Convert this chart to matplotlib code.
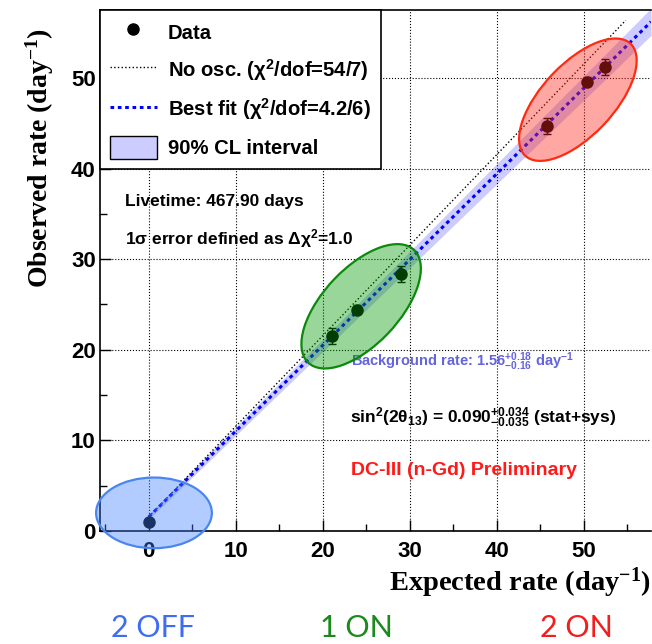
import matplotlib
matplotlib.use('Agg')
import matplotlib.pyplot as plt
from matplotlib.patches import Ellipse, Patch
from matplotlib.lines import Line2D
from matplotlib.ticker import MultipleLocator

# measured rates
expected = [0.0, 21.1, 23.9, 29.0, 45.7, 50.3, 52.4]
observed = [1.0, 21.5, 24.4, 28.4, 44.7, 49.6, 51.2]
obs_err = [0.3, 0.9, 0.5, 0.9, 0.9, 0.5, 0.9]

# no-oscillation and best-fit lines
noosc_x = [0.0, 54.8]
noosc_y = [1.56, 56.36]
fit_x = [0.0, 57.7]
fit_y = [1.56, 56.2]
band_lo = [1.30, 54.7]
band_hi = [1.82, 57.7]

# reactor configurations
groups = ['2 OFF', '1 ON', '2 ON']
group_x = [0.6, 24.4, 49.3]
group_y = [2.0, 24.8, 47.6]

plt.rcParams['font.family'] = ['Liberation Sans', 'DejaVu Sans']
plt.rcParams['font.weight'] = 'bold'
plt.rcParams['mathtext.default'] = 'regular'

fig = plt.figure(figsize=(6.52, 6.44), dpi=100)
ax = fig.add_axes([100/652, 113/644, 551/652, 521/644])
ax.set_xlim(-5.6, 57.7)
ax.set_ylim(0, 57.5)

ax.grid(True, which='major', color='black', linestyle=':', linewidth=0.8, zorder=0)
ax.set_axisbelow(True)

ax.fill_between(fit_x, band_lo, band_hi, color=(0, 0, 1, 0.2), linewidth=0, zorder=1)
ax.plot(noosc_x, noosc_y, color='black', linestyle=':', linewidth=1, zorder=2)
ax.plot(fit_x, fit_y, color='#0000ff', linestyle=(0, (1.2, 1.2)), linewidth=2.2, zorder=2)
ax.errorbar(expected, observed, yerr=obs_err, fmt='o', color='black', ms=8,
            elinewidth=1, capsize=3, zorder=3)

# ellipses drawn over the points, semi-transparent
ell_w = [13.3, 17.4, 17.3]
ell_h = [7.8, 8.6, 8.1]
ell_ang = [0, 45, 45]
ell_face = [(0.25, 0.5, 1.0, 0.4), (0.0, 0.6, 0.0, 0.4), (1.0, 0.15, 0.1, 0.4)]
ell_edge = ['#4a86f0', '#0a8a0a', '#ff2a10']
for i in range(len(groups)):
    e = Ellipse((group_x[i], group_y[i]), ell_w[i], ell_h[i], angle=ell_ang[i],
                facecolor=ell_face[i], edgecolor=ell_edge[i], linewidth=1.6,
                zorder=4, clip_on=False)
    ax.add_patch(e)

ax.spines['right'].set_visible(False)
for s in ['left', 'bottom', 'top']:
    ax.spines[s].set_linewidth(1.2)
ax.xaxis.set_major_locator(MultipleLocator(10))
ax.xaxis.set_minor_locator(MultipleLocator(5))
ax.yaxis.set_major_locator(MultipleLocator(10))
ax.yaxis.set_minor_locator(MultipleLocator(5))
ax.tick_params(which='both', direction='in', top=False, right=False)
ax.tick_params(which='major', length=8, width=1)
ax.tick_params(which='minor', length=5, width=1)
ax.tick_params(axis='x', labelsize=16, pad=7)
ax.tick_params(axis='y', labelsize=16, pad=3)
for lab in ax.get_xticklabels() + ax.get_yticklabels():
    lab.set_fontweight('bold')

fig.text(40/652, 1 - 28/644, 'Observed rate (day$^{-1}$)', rotation=90,
         ha='center', va='top', fontsize=20, fontweight='bold',
         family=['Liberation Serif', 'DejaVu Serif'])
fig.text(651/652, 1 - 583/644, 'Expected rate (day$^{-1}$)',
         ha='right', va='center', fontsize=20.5, fontweight='bold',
         family=['Liberation Serif', 'DejaVu Serif'])

handles = [
    Line2D([], [], marker='o', color='black', linestyle='none', ms=8),
    Line2D([], [], color='black', linestyle=':', linewidth=1),
    Line2D([], [], color='#0000ff', linestyle=(0, (1.2, 1.2)), linewidth=2.2),
    Patch(facecolor='#ccccff', edgecolor='black', linewidth=1),
]
labels = ['Data', 'No osc. (χ$^2$/dof=54/7)', 'Best fit (χ$^2$/dof=4.2/6)', '90% CL interval']
leg = ax.legend(handles, labels, loc='upper left', bbox_to_anchor=(0, 1),
                borderaxespad=0, fancybox=False, edgecolor='black', framealpha=1,
                prop={'size': 14.6, 'weight': 'bold'}, handlelength=2.3,
                handleheight=1.4, handletextpad=0.55, labelspacing=0.66,
                borderpad=0.5, numpoints=1)
leg.get_frame().set_linewidth(1.2)
leg.set_zorder(10)

ax.text(0.045, 0.633, 'Livetime: 467.90 days', transform=ax.transAxes,
        fontsize=12.5, fontweight='bold', va='center')
ax.text(0.045, 0.562, '1σ error defined as Δχ$^2$=1.0', transform=ax.transAxes,
        fontsize=12.5, fontweight='bold', va='center')
ax.text(0.456, 0.324, 'Background rate: 1.56$^{+0.18}_{-0.16}$ day$^{-1}$',
        transform=ax.transAxes, fontsize=10.5, fontweight='bold', va='center',
        color='#6464dc')
ax.text(0.454, 0.217, 'sin$^2$(2θ$_{13}$) = 0.090$^{+0.034}_{-0.035}$ (stat+sys)',
        transform=ax.transAxes, fontsize=12.5, fontweight='bold', va='center')
ax.text(0.456, 0.117, 'DC-III (n-Gd) Preliminary', transform=ax.transAxes,
        fontsize=14, fontweight='bold', va='center', color='#ff1a1a')

grp_colors = ['#3d6df2', '#1a8a1a', '#f21d1d']
grp_pos = [153, 356, 576]
for i in range(len(groups)):
    fig.text(grp_pos[i]/652, 1 - 628/644, groups[i], ha='center', va='center',
             fontsize=22, fontweight='normal', color=grp_colors[i],
             family=['Lato', 'DejaVu Sans'])

fig.savefig('out.png', dpi=100)
